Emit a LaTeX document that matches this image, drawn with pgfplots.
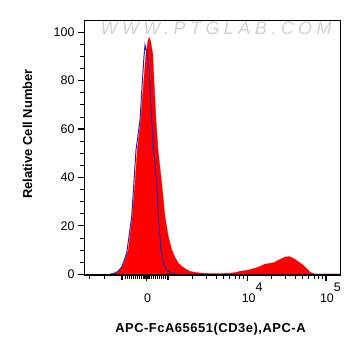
\documentclass[border=0pt]{standalone}
\usepackage{pgfplots}
\pgfplotsset{compat=1.18}
\usepackage{fontspec}
\setmainfont{Liberation Sans}
\definecolor{histblue}{RGB}{40,40,170}
\definecolor{histred}{RGB}{255,0,0}
\begin{document}
\begin{tikzpicture}
\useasboundingbox (-84bp,-81bp) rectangle (277bp,275bp);
\begin{axis}[at={(0,0)}, anchor=south west, scale only axis,
  width=256bp, height=255bp,
  xmin=84, xmax=340, ymin=-0.3, ymax=105,
  axis line style={line width=0.6pt},
  tick align=outside, xtick pos=bottom, ytick pos=left,
  ytick={0,20,40,60,80,100}, minor y tick num=3,
  xtick={146.5,247.7,326},
  xticklabels={0,10\rlap{\smash{\raisebox{0.9em}{4}}},10\rlap{\smash{\raisebox{0.9em}{5}}}},
  minor xtick={89,104,125,127,129,131,133,135,137,139,141,143,143.8,144.6,145.4,147.4,148.2,149,151,153,155,157,159,161,163,165,192,206,216,223,229.5,235,239.3,243.4,271,285,295,302,308.5,314,318.3,322.4},
  extra x ticks={122,168}, extra x tick labels={},
  extra x tick style={major tick length=5bp},
  major tick length=6bp, minor tick length=3.5bp,
  every tick/.style={black, line width=0.7pt},
  major tick style={line width=1.2pt},
  tick label style={font=\fontsize{12.5}{14}\selectfont},
  xticklabel style={yshift=-9bp, xshift=1bp},
  /pgf/number format/assume math mode=true,
  xlabel={\addfontfeature{LetterSpace=4}APC-FcA65651(CD3e),APC-A},
  ylabel={Relative Cell Number},
  xlabel style={font=\bfseries\fontsize{13}{15}\selectfont, at={(axis description cs:0.494,-0.212)}, anchor=center},
  ylabel style={font=\bfseries\fontsize{13}{15}\selectfont, at={(axis description cs:-0.221,0.553)}, anchor=center},
  clip=true,
]
\addplot[fill=histred, draw=histred, line width=0.3pt] coordinates {
(84,0) (110,0) (113,0.2) (116,0.7) (120,1.9) (124,4.6) (128.3,10.1) (132.3,23.8)
(135,37.6) (137.3,51.3) (140.7,63.7) (143.3,77.4) (146,91.2) (148,96.5) (149.3,97.8)
(150.5,96.5) (152.7,91.2) (154.3,77.4) (156,63.7) (158,51.5) (161.7,37.6) (165,23.8)
(168.3,15.6) (171.7,10.1) (175,7) (178.3,4.6) (182,3.2) (186.7,1.9) (190,1.2)
(195,0.8) (200,0.5) (210,0.3) (220,0.3) (230,0.4) (235,0.7) (240,1.2) (245,1.5)
(250,1.9) (255,2.5) (260,3.2) (265,4.2) (270,4.5) (274,4.8) (278,5.7) (282,6.5)
(285,7.1) (289,7.3) (293,6.7) (298,5.3) (302,4.1) (305,3.0) (308,1.8) (310,0.9)
(313,0.3) (315,0.1) (340,0.1)
} \closedcycle;
\addplot[draw=histblue, line width=1pt] coordinates {
(110,0) (114,0.4) (118,1.2) (122,3.2) (126.7,8.8) (131.7,23.8) (136,51.3) (140,63.7)
(142,77.4) (144,90) (145,94.6) (146.7,91.9) (148,88) (149.3,84.3) (150,77.4)
(151.7,63.7) (153.5,52) (156.7,37.6) (158.3,23.8) (161,10.1) (163.3,4.6) (166.7,1.9)
(169,1.0) (171.7,0.5) (176.7,0) (340,0)
};
\node[text=gray!35, font=\itshape\fontsize{18}{20}\selectfont] at (axis description cs:0.516,0.969) {\addfontfeature{LetterSpace=25}WWW.PTGLAB.COM};
\draw[line width=1.6pt] (rel axis cs:0,1) -- (rel axis cs:0,0) -- (rel axis cs:1,0);
\end{axis}
\end{tikzpicture}
\end{document}
